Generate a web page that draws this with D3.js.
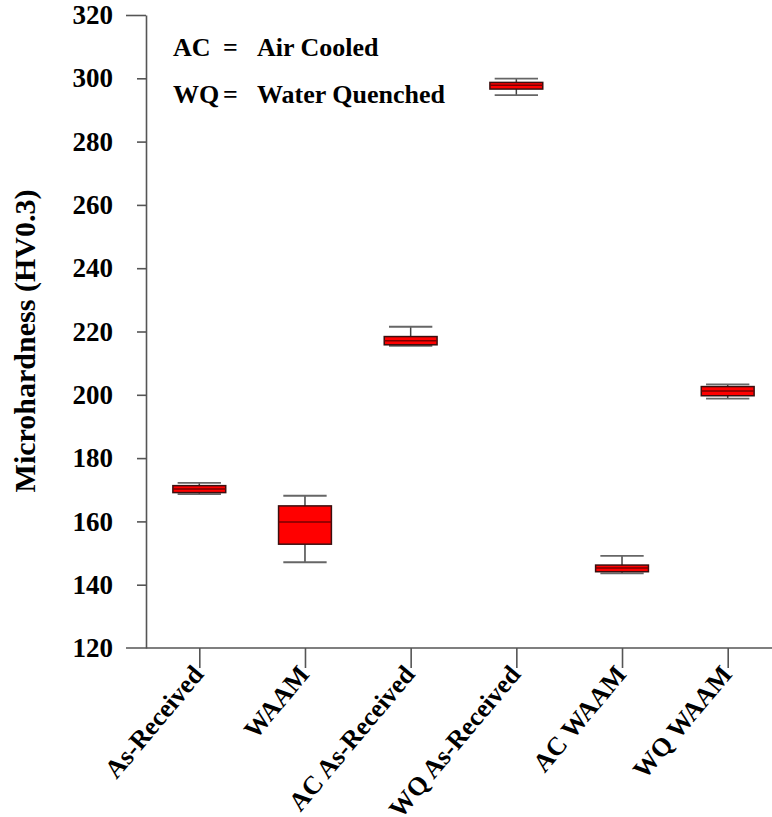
<!DOCTYPE html>
<html>
<head>
<meta charset="utf-8">
<script src="https://cdn.jsdelivr.net/npm/d3@7"></script>
<style>
  body { margin: 0; background: #fff; }
  text { font-family: "Liberation Serif", "Times New Roman", serif; font-weight: bold; }
</style>
</head>
<body>
<svg id="chart"></svg>
<script>
// Données
const categories = ["As-Received", "WAAM", "AC As-Received", "WQ As-Received", "AC WAAM", "WQ WAAM"];
const whiskerLow  = [168.6, 147.1, 215.5, 294.7, 143.6, 198.8];
const q1          = [169.1, 152.8, 215.8, 296.6, 144.1, 199.7];
const medians     = [170.2, 159.8, 217.1, 297.8, 145.3, 201.2];
const q3          = [171.3, 164.9, 218.4, 298.7, 146.2, 202.6];
const whiskerHigh = [172.2, 168.1, 221.5, 299.9, 149.1, 203.3];
const yTicks = [120, 140, 160, 180, 200, 220, 240, 260, 280, 300, 320];
const legend = [["AC", "Air Cooled"], ["WQ", "Water Quenched"]];

const width = 772, height = 817;
const svg = d3.select("#chart")
    .attr("width", width)
    .attr("height", height);

const axisX = 146, axisY = 648;
const x = d3.scalePoint().domain(categories).range([199.3, 727.7]);
const y = d3.scaleLinear().domain([120, 320]).range([axisY, 15]);
const step = x.step();
const boxW = step * 0.5, capW = step * 0.41;

const data = categories.map((c, i) => ({
    cat: c, lo: whiskerLow[i], q1: q1[i], med: medians[i], q3: q3[i], hi: whiskerHigh[i]
}));

// Axe Y
const gy = svg.append("g")
    .attr("transform", `translate(${axisX},0)`)
    .call(d3.axisLeft(y).tickValues(yTicks).tickSize(9).tickPadding(24).tickSizeOuter(0));
gy.select(".domain").attr("stroke", "#555").attr("stroke-width", 1.6);
gy.selectAll(".tick line").attr("stroke", "#555").attr("stroke-width", 1.6)
    .attr("x1", d => d === 320 ? -20 : 0)
    .attr("x2", d => d === 320 ? 0 : -9);
gy.selectAll(".tick line").filter(d => d === 120).remove();
gy.selectAll(".tick text").attr("font-size", 27).attr("fill", "#000");

// Axe X
const gx = svg.append("g")
    .attr("transform", `translate(0,${axisY})`)
    .call(d3.axisBottom(x).tickSize(20).tickFormat(""));
gx.select(".domain").remove();
gx.selectAll(".tick line").attr("stroke", "#555").attr("stroke-width", 1.6);
gx.append("line")
    .attr("x1", axisX - 20).attr("x2", width)
    .attr("stroke", "#555").attr("stroke-width", 1.6);

gx.selectAll(".tick").append("text")
    .attr("class", "xlab")
    .attr("transform", "translate(5,27) rotate(-50)")
    .attr("text-anchor", "end")
    .attr("font-size", 26)
    .attr("fill", "#000")
    .text(d => d);

// Boîtes à moustaches
const boxes = svg.selectAll("g.box")
    .data(data)
    .enter()
    .append("g")
    .attr("class", "box")
    .attr("transform", d => `translate(${x(d.cat)},0)`);

boxes.append("line")
    .attr("y1", d => y(d.lo)).attr("y2", d => y(d.hi))
    .attr("stroke", "#444").attr("stroke-width", 1.5);
boxes.selectAll("line.cap")
    .data(d => [d.lo, d.hi])
    .enter()
    .append("line")
    .attr("class", "cap")
    .attr("x1", -capW / 2).attr("x2", capW / 2)
    .attr("y1", v => y(v)).attr("y2", v => y(v))
    .attr("stroke", "#666").attr("stroke-width", 1.8);
boxes.append("rect")
    .attr("x", -boxW / 2)
    .attr("y", d => y(d.q3))
    .attr("width", boxW)
    .attr("height", d => y(d.q1) - y(d.q3))
    .attr("fill", "#ff0000")
    .attr("stroke", "#3a1010")
    .attr("stroke-width", 1.5);
boxes.append("line")
    .attr("x1", -boxW / 2).attr("x2", boxW / 2)
    .attr("y1", d => y(d.med)).attr("y2", d => y(d.med))
    .attr("stroke", "#7a0000").attr("stroke-width", 1.5);

// Titre de l'axe Y
svg.append("text")
    .attr("transform", "translate(35,341) rotate(-90)")
    .attr("text-anchor", "middle")
    .attr("font-size", 30)
    .attr("fill", "#000")
    .text("Microhardness (HV0.3)");

// Légende
const lg = svg.selectAll("g.leg")
    .data(legend)
    .enter()
    .append("g")
    .attr("class", "leg")
    .attr("transform", (d, i) => `translate(0,${56 + i * 47})`);
lg.append("text").attr("x", 173).attr("font-size", 26).text(d => d[0]);
lg.append("text").attr("x", 223).attr("font-size", 26).text("=");
lg.append("text").attr("x", 257).attr("font-size", 26).text(d => d[1]);
</script>
</body>
</html>
